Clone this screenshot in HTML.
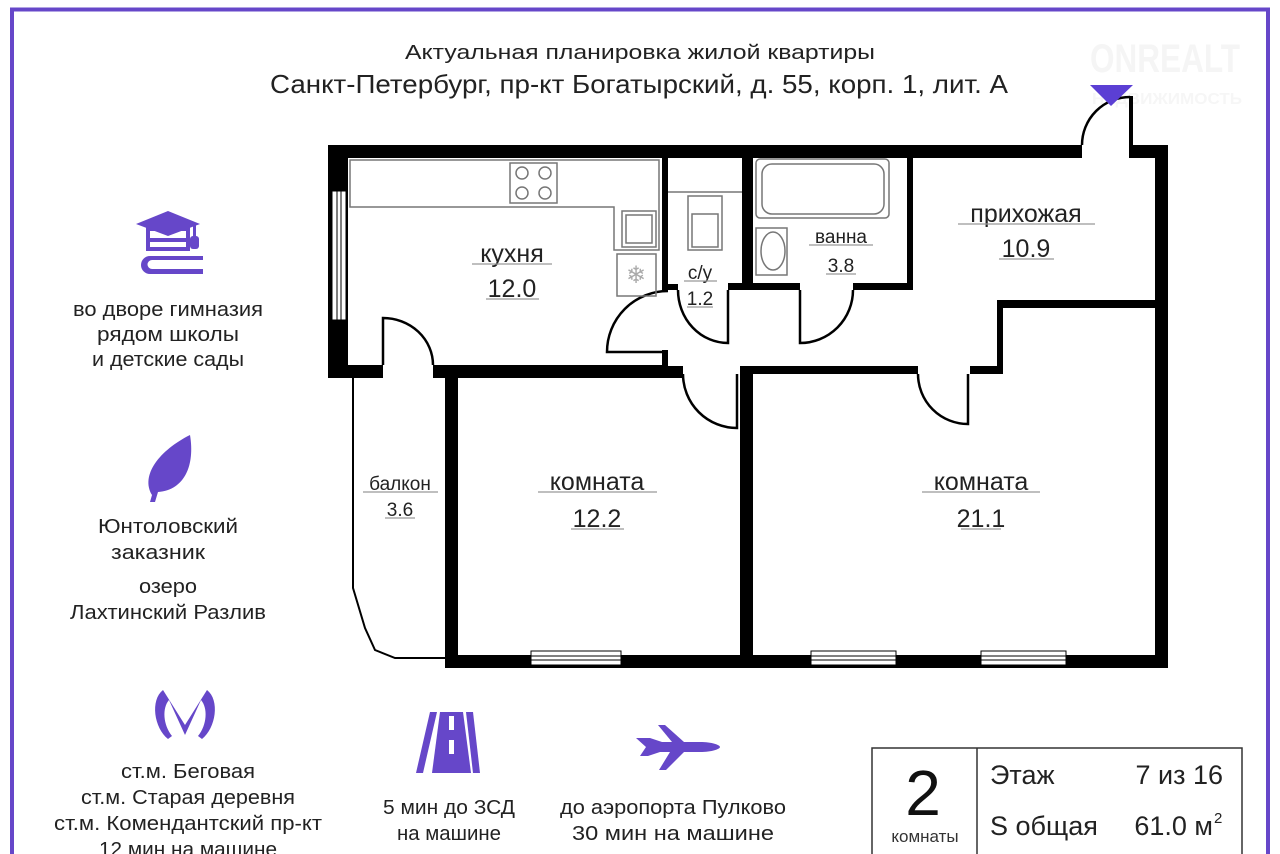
<!DOCTYPE html>
<html><head><meta charset="utf-8"><style>
html,body{margin:0;padding:0;background:#fff;width:1280px;height:854px;overflow:hidden;}
svg{display:block;}
text{font-family:"Liberation Sans","Noto Sans CJK SC",sans-serif;}
</style></head><body>
<svg width="1280" height="854" viewBox="0 0 1280 854" xmlns="http://www.w3.org/2000/svg">
<rect x="0" y="0" width="1280" height="854" fill="#fff"/>
<path d="M12 900 L12 9.5 L1268 9.5 L1268 900" fill="none" stroke="#6647c9" stroke-width="4"/>
<!-- watermark -->
<text x="1090" y="72" font-size="40" font-weight="bold" fill="#f5f5f5" textLength="150" lengthAdjust="spacingAndGlyphs">ONREALT</text>
<text x="1092" y="104" font-size="16" font-weight="bold" fill="#f6f6f6" textLength="150" lengthAdjust="spacingAndGlyphs">НЕДВИЖИМОСТЬ</text>
<!-- titles -->
<text x="405" y="59" font-size="20" fill="#222" textLength="470" lengthAdjust="spacingAndGlyphs">Актуальная  планировка жилой квартиры</text>
<text x="270" y="93" font-size="26" fill="#222" textLength="738" lengthAdjust="spacingAndGlyphs">Санкт-Петербург, пр-кт Богатырский, д. 55, корп. 1, лит. А</text>

<g fill="#000">
<rect x="328" y="145" width="754" height="13"/>
<rect x="1129" y="145" width="39" height="13"/>
<rect x="1129" y="96" width="4" height="60"/>
<rect x="1155" y="145" width="13" height="523"/>
<rect x="328" y="145" width="20" height="233"/>
<rect x="328" y="365" width="55" height="13"/>
<rect x="433" y="365" width="235" height="13"/>
<rect x="662" y="157" width="6" height="133"/>
<rect x="662" y="284" width="16" height="6"/>
<rect x="662" y="350" width="6" height="28"/>
<rect x="742" y="157" width="11" height="133"/>
<rect x="728" y="283" width="25" height="7"/>
<rect x="753" y="283" width="47" height="7"/>
<rect x="853" y="283" width="60" height="7"/>
<rect x="907" y="157" width="6" height="133"/>
<rect x="997" y="300" width="158" height="8"/>
<rect x="997" y="300" width="6" height="74"/>
<rect x="970" y="366" width="33" height="8"/>
<rect x="740" y="366" width="178" height="8"/>
<rect x="445" y="366" width="238" height="12"/>
<rect x="445" y="366" width="13" height="302"/>
<rect x="740" y="366" width="13" height="302"/>
<rect x="445" y="655" width="723" height="13"/>
</g>
<rect x="332" y="191" width="14" height="129" fill="#fff" stroke="#000" stroke-width="1"/>
<line x1="337" y1="191" x2="337" y2="320" stroke="#000"/><line x1="341" y1="191" x2="341" y2="320" stroke="#000"/>
<g fill="#fff" stroke="#000" stroke-width="1">
<rect x="531" y="651" width="90" height="14"/>
<rect x="811" y="651" width="85" height="14"/>
<rect x="981" y="651" width="85" height="14"/>
</g>
<g stroke="#000" stroke-width="1">
<line x1="531" y1="656" x2="621" y2="656"/><line x1="531" y1="660" x2="621" y2="660"/>
<line x1="811" y1="656" x2="896" y2="656"/><line x1="811" y1="660" x2="896" y2="660"/>
<line x1="981" y1="656" x2="1066" y2="656"/><line x1="981" y1="660" x2="1066" y2="660"/>
</g>
<path d="M353 378 L353 588 L365 628 L375 650 L395 658 L445 658" fill="none" stroke="#000" stroke-width="2"/>
<g fill="none" stroke="#000" stroke-width="2.5">
<path d="M1082 145 A48 48 0 0 1 1130 97"/>
<path d="M383 365 L383 318 A50 47 0 0 1 433 365"/>
<path d="M668 352 L607 352 A61 61 0 0 1 668 291"/>
<path d="M678 290 A50 53 0 0 0 728 343 L728 290"/>
<path d="M800 290 L800 343 A53 53 0 0 0 853 290"/>
<path d="M683 374 A54 54 0 0 0 737 428 L737 374"/>
<path d="M918 374 A50 50 0 0 0 968 424 L968 374"/>
</g>
<polygon points="1090,85 1133,85 1111,106" fill="#5b3fd4"/>
<g fill="none" stroke="#777" stroke-width="1.5">
<path d="M350 160 L659 160 L659 250 L614 250 L614 207 L350 207 Z"/>
<rect x="510" y="163" width="47" height="40"/>
<circle cx="522" cy="173" r="6"/><circle cx="545" cy="173" r="6"/>
<circle cx="522" cy="193" r="6"/><circle cx="545" cy="193" r="6"/>
<rect x="622" y="211" width="34" height="36"/>
<rect x="626" y="215" width="26" height="28"/>
<rect x="617" y="254" width="39" height="42"/>
<rect x="688" y="196" width="34" height="54"/>
<rect x="692" y="214" width="26" height="33"/>
<line x1="668" y1="192" x2="742" y2="192"/>
<rect x="756" y="159" width="133" height="59" rx="4"/>
<rect x="762" y="164" width="122" height="50" rx="10"/>
<rect x="756" y="228" width="31" height="47"/>
<ellipse cx="773" cy="251" rx="12" ry="19"/>
</g>
<text x="636" y="283" font-size="24" fill="#aaa" text-anchor="middle">❄</text>
<g fill="#222" text-anchor="middle">
<text x="512" y="262" font-size="25">кухня</text>
<text x="512" y="297" font-size="25">12.0</text>
<text x="700" y="279" font-size="19">с/у</text>
<text x="700" y="305" font-size="19">1.2</text>
<text x="841" y="243" font-size="19">ванна</text>
<text x="841" y="272" font-size="19">3.8</text>
<text x="1026" y="222" font-size="25">прихожая</text>
<text x="1026" y="257" font-size="25">10.9</text>
<text x="597" y="490" font-size="25">комната</text>
<text x="597" y="527" font-size="25">12.2</text>
<text x="981" y="490" font-size="25">комната</text>
<text x="981" y="527" font-size="25">21.1</text>
<text x="400" y="490" font-size="19">балкон</text>
<text x="400" y="516" font-size="19">3.6</text>
</g>
<g stroke="#999" stroke-width="1.2">
<line x1="472" y1="264" x2="552" y2="264"/><line x1="486" y1="299" x2="539" y2="299"/>
<line x1="684" y1="281" x2="717" y2="281"/><line x1="687" y1="307" x2="713" y2="307"/>
<line x1="809" y1="245" x2="873" y2="245"/><line x1="826" y1="274" x2="856" y2="274"/>
<line x1="958" y1="224" x2="1095" y2="224"/><line x1="999" y1="259" x2="1054" y2="259"/>
<line x1="538" y1="492" x2="657" y2="492"/><line x1="571" y1="529" x2="624" y2="529"/>
<line x1="922" y1="492" x2="1040" y2="492"/><line x1="961" y1="529" x2="1001" y2="529"/>
<line x1="363" y1="492" x2="438" y2="492"/><line x1="385" y1="518" x2="415" y2="518"/>
</g>

<g fill="#6647c9">
<polygon points="136,224 168,211 200,224 168,236"/>
<rect x="148" y="229" width="40" height="20" fill="none" stroke="#6647c9" stroke-width="4"/>
<rect x="148" y="238" width="40" height="4"/>
<rect x="193" y="224" width="3" height="14"/>
<rect x="190" y="236" width="9" height="13" rx="3"/>
<path d="M150 256 L203 256 L203 260 L152 260 A4 4 0 0 0 152 269 L203 269 L203 274 L150 274 A9 9 0 0 1 150 256 Z"/>
<path d="M190 435 C160 450 140 475 152 495 L150 502 L155 502 L158 492 C185 490 195 465 190 435 Z"/>
<path d="M163 690 C150 700 154 728 168 739 L172 736 C163 725 162 708 169 700 L185 735 L201 700 C208 708 207 725 198 736 L202 739 C216 728 220 700 207 690 L185 725 Z"/>
<polygon points="430,712 437,712 423,773 416,773"/>
<polygon points="466,712 473,712 480,773 473,773"/>
<path d="M440 712 L463 712 L471 773 L432 773 Z"/>
<path d="M636 738 L650 738 L662 742 L700 742 C712 742 720 745 720 747 C720 749 712 752 700 752 L684 752 L666 770 L659 770 L670 752 L660 752 L648 756 L640 756 L646 747 Z"/>
<polygon points="658,725 665,725 684,742 672,742"/>
</g>
<g fill="#fff"><rect x="449" y="716" width="5" height="14"/><rect x="449" y="740" width="5" height="14"/></g>

<g fill="#222" text-anchor="middle" font-size="20">
<text x="168" y="316" textLength="190" lengthAdjust="spacingAndGlyphs">во дворе гимназия</text>
<text x="168" y="341" textLength="142" lengthAdjust="spacingAndGlyphs">рядом школы</text>
<text x="168" y="366" textLength="152" lengthAdjust="spacingAndGlyphs">и детские сады</text>
<text x="168" y="533" textLength="140" lengthAdjust="spacingAndGlyphs">Юнтоловский</text>
<text x="158" y="559" textLength="94" lengthAdjust="spacingAndGlyphs">заказник</text>
<text x="168" y="593" textLength="58" lengthAdjust="spacingAndGlyphs">озеро</text>
<text x="168" y="619" textLength="196" lengthAdjust="spacingAndGlyphs">Лахтинский Разлив</text>
<text x="188" y="778" textLength="134" lengthAdjust="spacingAndGlyphs">ст.м. Беговая</text>
<text x="188" y="804" textLength="214" lengthAdjust="spacingAndGlyphs">ст.м. Старая деревня</text>
<text x="188" y="830" textLength="268" lengthAdjust="spacingAndGlyphs">ст.м. Комендантский пр-кт</text>
<text x="188" y="856" textLength="178" lengthAdjust="spacingAndGlyphs">12 мин на машине</text>
<text x="449" y="814" textLength="132" lengthAdjust="spacingAndGlyphs">5 мин до ЗСД</text>
<text x="449" y="840" textLength="104" lengthAdjust="spacingAndGlyphs">на машине</text>
<text x="673" y="814" textLength="226" lengthAdjust="spacingAndGlyphs">до аэропорта Пулково</text>
<text x="673" y="840" textLength="202" lengthAdjust="spacingAndGlyphs">30 мин на машине</text>
</g>

<g fill="none" stroke="#333" stroke-width="1.5">
<rect x="872" y="748" width="370" height="120"/>
<line x1="977" y1="748" x2="977" y2="868"/>
</g>
<text x="923" y="815" font-size="64" text-anchor="middle" fill="#111">2</text>
<text x="925" y="842" font-size="17" text-anchor="middle" fill="#333">комнаты</text>
<text x="990" y="784" font-size="27" fill="#222">Этаж</text>
<text x="1223" y="784" font-size="27" text-anchor="end" fill="#222">7 из 16</text>
<text x="990" y="835" font-size="27" fill="#222">S общая</text>
<text x="1213" y="835" font-size="27" text-anchor="end" fill="#222">61.0 м</text>
<text x="1214" y="823" font-size="15" fill="#222">2</text>
</svg>
</body></html>
